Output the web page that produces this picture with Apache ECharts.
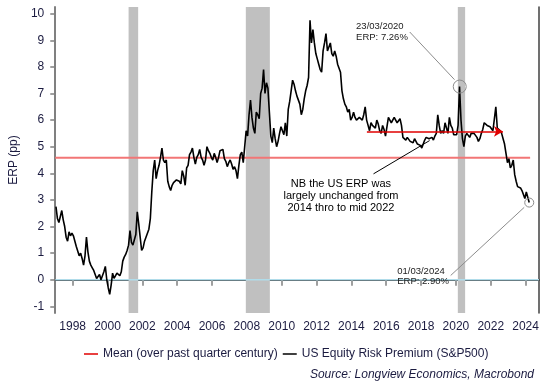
<!DOCTYPE html>
<html><head><meta charset="utf-8">
<script src="https://cdn.jsdelivr.net/npm/echarts@6/dist/echarts.min.js"></script>
<style>html,body{margin:0;padding:0;background:#fff}#c{width:555px;height:391px}</style>
</head><body><div id="c"></div>
<script>
// ---- DATA ----
const START_YEAR = 1997; // monthly observations from Jan 1997
const ERP_MONTHLY = [
  2.75, 2.3, 2.15, 2.1, 2.6, 2.25, 2.0, 1.6, 1.45, 1.8, 1.65, 1.75,      // 1997
  1.65, 1.6, 1.25, 1.2, 0.9, 1.0, 0.8, 0.55, 0.9, 1.6, 1.05, 0.7,        // 1998
  0.55, 0.45, 0.35, 0.2, 0.05, 0.1, 0.2, 0.0, -0.05, 0.3, 0.5, 0.0,      // 1999
  -0.3, -0.55, -0.2, 0.25, 0.05, 0.0, 0.25, 0.2, 0.15, 0.3, 0.7, 0.85,   // 2000
  0.95, 1.1, 1.3, 1.85, 1.4, 1.3, 1.5, 1.7, 2.55, 2.1, 1.6, 1.1,         // 2001
  1.2, 1.45, 1.5, 1.75, 1.9, 2.3, 3.3, 4.1, 4.5, 3.8, 4.1, 4.3,          // 2002
  4.6, 4.95, 4.5, 4.4, 4.5, 3.7, 3.5, 3.35, 3.55, 3.65, 3.7, 3.75,       // 2003
  3.8, 3.7, 3.6, 4.1, 3.9, 3.55, 4.2, 4.3, 4.7, 4.8, 4.95, 4.6,          // 2004
  4.35, 4.6, 4.7, 4.9, 4.6, 4.5, 4.3, 4.5, 5.0, 4.85, 4.75, 4.6,         // 2005
  4.5, 4.75, 4.6, 4.4, 4.6, 4.85, 4.8, 4.9, 4.55, 4.45, 4.25, 4.4,       // 2006
  4.5, 4.35, 4.15, 4.25, 4.1, 3.8, 4.3, 4.7, 4.8, 4.4, 5.0, 5.6,         // 2007
  5.4, 6.2, 6.75, 6.1, 5.7, 5.5, 6.3, 6.2, 6.05, 7.0, 7.2, 7.9,          // 2008
  7.0, 7.4, 7.2, 6.3, 5.4, 5.15, 5.7, 5.3, 5.0, 5.2, 5.5, 5.75,          // 2009
  5.6, 5.45, 5.9, 5.4, 6.4, 6.7, 7.1, 7.5, 7.35, 7.1, 6.9, 6.75,         // 2010
  6.6, 6.2, 6.4, 6.8, 7.1, 7.3, 7.6, 9.75, 8.9, 9.4, 8.9, 8.5,           // 2011
  8.3, 8.1, 7.9, 7.8, 8.6, 8.9, 9.25, 8.6, 8.6, 8.9, 8.5, 8.4,           // 2012
  8.6, 8.4, 8.1, 8.1, 7.8, 7.1, 6.8, 6.6, 6.5, 6.3, 6.4, 6.0,            // 2013
  6.1, 6.3, 6.1, 6.0, 5.95, 6.1, 6.15, 6.0, 6.2, 6.5, 6.0, 5.8,          // 2014
  5.6, 5.9, 5.8, 5.75, 5.7, 6.0, 5.85, 5.6, 5.5, 5.8, 5.65, 5.4,         // 2015
  5.4, 6.1, 6.0, 5.9, 5.95, 6.1, 6.0, 5.9, 5.95, 6.05, 5.8, 5.35,        // 2016
  5.3, 5.25, 5.35, 5.3, 5.2, 5.25, 5.15, 5.3, 5.2, 5.1, 5.15, 5.05,      // 2017
  4.95, 5.1, 5.25, 5.35, 5.4, 5.3, 5.3, 5.35, 5.25, 5.4, 5.5, 6.2,       // 2018
  5.8, 5.5, 5.6, 5.5, 5.9, 5.7, 5.5, 6.1, 5.8, 5.7, 5.45, 5.4,           // 2019
  5.45, 5.8, 7.26, 6.0, 5.3, 5.0, 5.4, 5.5, 5.45, 5.35, 5.5, 5.5,        // 2020
  5.5, 5.45, 5.35, 5.2, 5.3, 5.5, 5.65, 5.9, 5.85, 5.8, 5.85, 5.75,      // 2021
  5.75, 5.6, 5.65, 6.5, 5.7, 5.65, 5.6, 5.5, 5.3, 5.1, 4.75, 4.4,        // 2022
  4.55, 4.2, 4.3, 4.5, 3.95, 3.7, 3.5, 3.55, 3.45, 3.35, 3.2, 3.05,      // 2023
  3.3, 3.1, 2.9                                                          // 2024
];
const MEAN_ERP = 4.58;
const MEAN_SPAN = [1997.0, 2024.26];
const ZERO_LINE = 0;
const RECESSIONS = [[2001.21, 2001.76], [2007.94, 2009.32], [2020.11, 2020.53]];
const X_TICKS = [1998, 2000, 2002, 2004, 2006, 2008, 2010, 2012, 2014, 2016, 2018, 2020, 2022, 2024];
const Y_TICKS = [-1, 0, 1, 2, 3, 4, 5, 6, 7, 8, 9, 10];
const X_RANGE = [1997, 2024.77];
const Y_RANGE = [-1.25, 10.25];
const PEAK_2020 = [2020.22, 7.26];
const LAST_POINT = [2024.21, 2.90];
const FLAT_RANGE = [[2014.89, 5.575], [2022.70, 5.575]];
const NAMES = { mean: 'Mean (over past quarter century)', erp: 'US Equity Risk Premium (S&P500)' };

// ---- BUILD ----
const erpData = ERP_MONTHLY.map((v, i) => [START_YEAR + (i + 0.5) / 12, v]);
const meanData = MEAN_SPAN.map(x => [x, MEAN_ERP]);
const zeroData = X_RANGE.map(x => [x, ZERO_LINE]);
const TXT = '#1b1b40';
const FONT = "'Liberation Sans', Arial, sans-serif";

const chart = echarts.init(document.getElementById('c'), null, { renderer: 'canvas' });
chart.setOption({
  animation: false,
  backgroundColor: '#fff',
  textStyle: { fontFamily: FONT },
  grid: { left: 48, right: 16, top: 7, bottom: 78, containLabel: false },
  xAxis: [{
    type: 'value', min: X_RANGE[0], max: X_RANGE[1],
    axisLine: { show: true, lineStyle: { color: '#808080', width: 2 } },
    axisTick: { show: true, customValues: X_TICKS, length: 6, lineStyle: { color: '#808080', width: 1.5 } },
    axisLabel: { customValues: X_TICKS, formatter: v => String(v), color: TXT, fontSize: 12, margin: 8, fontFamily: FONT },
    splitLine: { show: false }
  }, {
    type: 'value', position: 'top', min: X_RANGE[0], max: X_RANGE[1],
    axisLine: { show: true, lineStyle: { color: '#000', width: 1.5 } },
    axisTick: { show: false }, axisLabel: { show: false }, splitLine: { show: false }
  }],
  yAxis: [{
    type: 'value', min: Y_RANGE[0], max: Y_RANGE[1],
    name: 'ERP (pp)', nameLocation: 'middle', nameGap: 25, nameRotate: 90,
    nameTextStyle: { color: TXT, fontSize: 12, fontFamily: FONT },
    axisLine: { show: true, lineStyle: { color: '#808080', width: 2 } },
    axisTick: { show: true, customValues: Y_TICKS, length: 5, lineStyle: { color: '#808080', width: 1.5 } },
    axisLabel: { customValues: Y_TICKS, color: TXT, fontSize: 12, margin: 11, fontFamily: FONT },
    splitLine: { show: false }
  }, {
    type: 'value', position: 'right', min: Y_RANGE[0], max: Y_RANGE[1],
    axisLine: { show: true, lineStyle: { color: '#404040', width: 1.5 } },
    axisTick: { show: false }, axisLabel: { show: false }, splitLine: { show: false }
  }],
  legend: {
    left: 79, top: 343, itemGap: 5, itemWidth: 14, itemHeight: 1.5, icon: 'rect',
    textStyle: { color: TXT, fontSize: 12, fontFamily: FONT },
    data: [
      { name: NAMES.mean, itemStyle: { color: '#e00000' } },
      { name: NAMES.erp, itemStyle: { color: '#000000' } }
    ]
  },
  series: [
    {
      name: 'bg', type: 'line', data: [], z: 1, silent: true,
      markArea: { silent: true, itemStyle: { color: '#c0c0c0' },
        data: RECESSIONS.map(r => [{ xAxis: r[0] }, { xAxis: r[1] }]) }
    },
    {
      name: 'zero', type: 'line', data: zeroData, z: 2, symbol: 'none', silent: true,
      lineStyle: { color: '#b0dcea', width: 1.5 }
    },
    {
      name: NAMES.mean, type: 'line', data: meanData, z: 2, symbol: 'none',
      itemStyle: { color: '#e00000' },
      lineStyle: { color: '#f27676', width: 2 }
    },
    {
      name: NAMES.erp, type: 'line', data: erpData, z: 3, symbol: 'none',
      itemStyle: { color: '#000' },
      lineStyle: { color: '#000', width: 1.6 }
    },
    {
      name: 'annot', type: 'line', data: [], z: 5, silent: true,
      markLine: {
        silent: true, symbol: 'none', label: { show: false },
        lineStyle: { color: '#8c8c8c', width: 1, type: 'solid' },
        data: [
          [{ coord: [2017.35, 9.31] }, { coord: [2019.92, 7.52] }],
          [{ coord: [2019.70, 0.16] }, { coord: [2023.92, 2.72] }],
          [{ coord: [2015.27, 3.98], lineStyle: { color: '#000', width: 1 } }, { coord: [2018.49, 5.23] }],
          [{ coord: FLAT_RANGE[0], symbol: 'none', lineStyle: { color: '#e00000', width: 1.5 } },
           { coord: FLAT_RANGE[1], symbol: 'arrow', symbolSize: [8, 9] }]
        ]
      },
      markPoint: {
        silent: true,
        data: [
          { coord: PEAK_2020, symbol: 'circle', symbolSize: 13,
            itemStyle: { color: 'rgba(0,0,0,0)', borderColor: '#8c8c8c', borderWidth: 1 }, label: { show: false } },
          { coord: LAST_POINT, symbol: 'circle', symbolSize: 9,
            itemStyle: { color: 'rgba(0,0,0,0)', borderColor: '#8c8c8c', borderWidth: 1 }, label: { show: false } },
          { coord: [2014.27, 9.71], symbol: 'rect', symbolSize: 1, itemStyle: { color: 'rgba(0,0,0,0)' },
            label: { show: true, position: 'inside', align: 'left', verticalAlign: 'top',
              formatter: '23/03/2020\nERP: 7.26%', fontSize: 9.5, lineHeight: 10.4, color: '#222' } },
          { coord: [2016.63, 0.51], symbol: 'rect', symbolSize: 1, itemStyle: { color: 'rgba(0,0,0,0)' },
            label: { show: true, position: 'inside', align: 'left', verticalAlign: 'top',
              formatter: '01/03/2024\nERP: 2.90%', fontSize: 9.5, lineHeight: 10.2, color: '#222' } },
          { coord: [2013.40, 3.83], symbol: 'rect', symbolSize: 1, itemStyle: { color: 'rgba(0,0,0,0)' },
            label: { show: true, position: 'inside', align: 'center', verticalAlign: 'top',
              formatter: 'NB the US ERP was\nlargely unchanged from\n2014 thro to mid 2022', fontSize: 11, lineHeight: 12, color: '#000' } }
        ]
      }
    }
  ],
  graphic: [{
    type: 'text', right: 21, top: 369, silent: true,
    style: { text: 'Source: Longview Economics, Macrobond', font: "italic 12px 'Liberation Sans', Arial, sans-serif", fill: TXT }
  }]
});
</script></body></html>
